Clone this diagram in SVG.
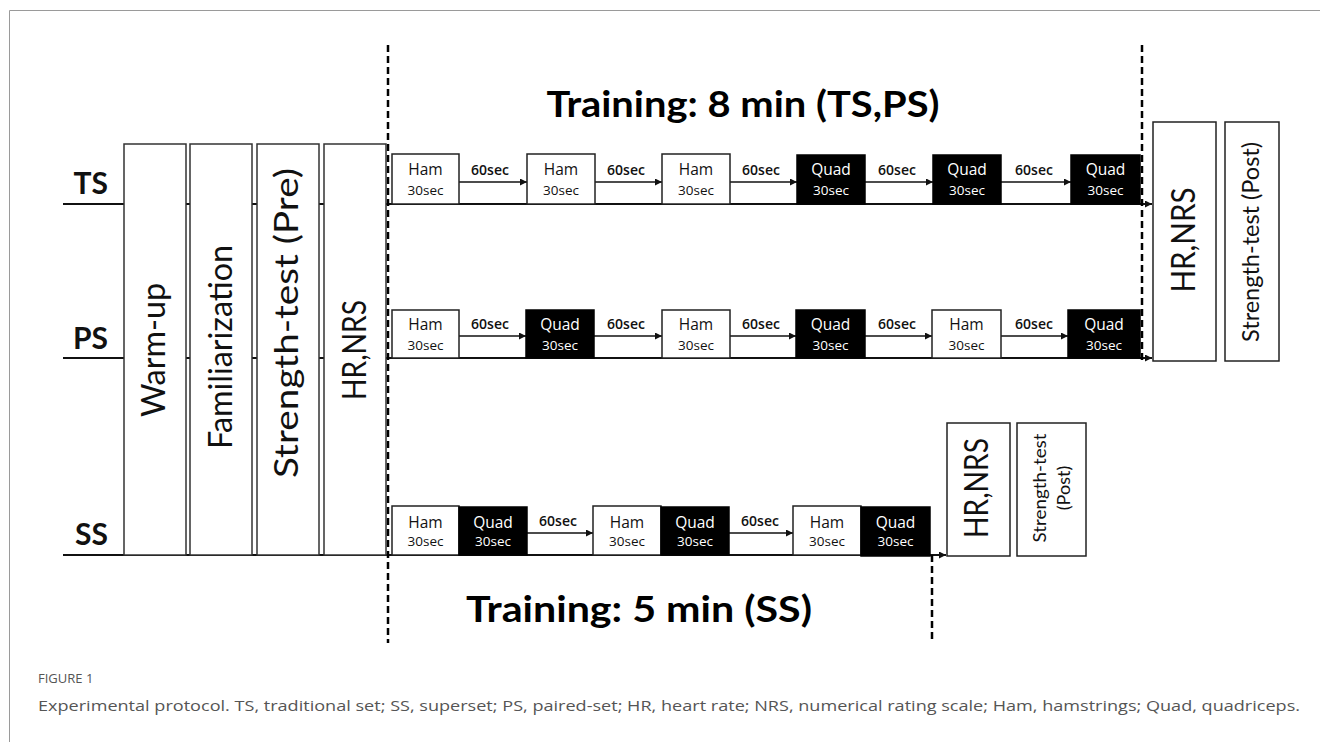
<svg xmlns="http://www.w3.org/2000/svg" width="1320" height="742" viewBox="0 0 1320 742">
<style>
.frame{fill:none;stroke:#9a9a9a;stroke-width:1}
.tall{fill:#fff;stroke:#333;stroke-width:1.5}
.wbox{fill:#fff;stroke:#222;stroke-width:1.5}
.bbox{fill:#000;stroke:#000;stroke-width:1.5}
.base{stroke:#111;stroke-width:2;fill:none}
.arr{stroke:#111;stroke-width:1.5;fill:none}
.dash{stroke:#000;stroke-width:2.5;stroke-dasharray:7 4;fill:none}
.row{font-family:Lato,"Open Sans","Liberation Sans",sans-serif;font-weight:bold;font-size:30px;fill:#111;text-anchor:end}
.big{font-family:Lato,"Liberation Sans",sans-serif;font-size:32px;fill:#111;text-anchor:middle}
.mid{font-family:Lato,"Liberation Sans",sans-serif;font-size:23px;fill:#111;text-anchor:middle}
.sm{font-family:Lato,"Liberation Sans",sans-serif;font-size:18px;fill:#111;text-anchor:middle}
.title{font-family:Lato,"Liberation Sans",sans-serif;font-weight:bold;font-size:36px;fill:#000;text-anchor:middle}
.t1{font-family:"Open Sans","Liberation Sans",Arial,sans-serif;font-size:15.5px;text-anchor:middle}
.t2{font-family:"Open Sans","Liberation Sans",Arial,sans-serif;font-size:13.5px;text-anchor:middle}
.w{fill:#111}
.k{fill:#fff}
.gap{font-family:"Open Sans","Liberation Sans",Arial,sans-serif;font-size:14px;font-weight:600;fill:#111;text-anchor:middle}
.cap1{font-family:"Open Sans","Liberation Sans",sans-serif;font-size:13px;fill:#555}
.cap2{font-family:"Open Sans","Liberation Sans",sans-serif;font-size:15px;fill:#555}
</style>
<defs>
<marker id="ah" viewBox="0 0 10 10" refX="10" refY="5" markerWidth="8" markerHeight="7" markerUnits="userSpaceOnUse" orient="auto">
<path d="M0,0 L10,5 L0,10 Z" fill="#111"/>
</marker>
</defs>
<rect width="1320" height="742" fill="#fff"/>
<path class="frame" d="M9.5,742 V10.5 H1320"/>

<g id="connectors">
<line class="base" x1="63" y1="204" x2="1152" y2="204" marker-end="url(#ah)"/>
<line class="base" x1="63" y1="358" x2="1152" y2="358" marker-end="url(#ah)"/>
<line class="base" x1="63" y1="555" x2="946" y2="555" marker-end="url(#ah)"/>
<line class="arr" x1="459" y1="182" x2="527" y2="182" marker-end="url(#ah)"/>
<line class="arr" x1="595" y1="182" x2="662" y2="182" marker-end="url(#ah)"/>
<line class="arr" x1="730" y1="182" x2="797" y2="182" marker-end="url(#ah)"/>
<line class="arr" x1="865" y1="182" x2="933" y2="182" marker-end="url(#ah)"/>
<line class="arr" x1="1001" y1="182" x2="1071" y2="182" marker-end="url(#ah)"/>
<line class="arr" x1="459" y1="336" x2="526" y2="336" marker-end="url(#ah)"/>
<line class="arr" x1="594" y1="336" x2="662" y2="336" marker-end="url(#ah)"/>
<line class="arr" x1="730" y1="336" x2="796" y2="336" marker-end="url(#ah)"/>
<line class="arr" x1="865" y1="336" x2="932" y2="336" marker-end="url(#ah)"/>
<line class="arr" x1="1001" y1="336" x2="1068" y2="336" marker-end="url(#ah)"/>
<line class="arr" x1="527" y1="533" x2="593" y2="533" marker-end="url(#ah)"/>
<line class="arr" x1="729" y1="533" x2="793" y2="533" marker-end="url(#ah)"/>
<g class="gap">
<text x="490" y="175">60sec</text><text x="626" y="175">60sec</text><text x="761" y="175">60sec</text><text x="897" y="175">60sec</text><text x="1034" y="175">60sec</text>
<text x="490" y="329">60sec</text><text x="626" y="329">60sec</text><text x="761" y="329">60sec</text><text x="897" y="329">60sec</text><text x="1034" y="329">60sec</text>
<text x="558" y="526">60sec</text><text x="760" y="526">60sec</text>
</g>
<line class="dash" x1="388" y1="45" x2="388" y2="643"/>
<line class="dash" x1="1142" y1="45" x2="1142" y2="362"/>
<line class="dash" x1="932" y1="555" x2="932" y2="643"/>
</g>

<g id="row-labels">
<text class="row" x="108" y="194">TS</text>
<text class="row" x="108" y="349">PS</text>
<text class="row" x="108" y="545">SS</text>
</g>

<g id="warmup"><rect class="tall" x="124" y="144" width="62" height="411"/><text class="big" transform="translate(165,350) rotate(-90)" textLength="134" lengthAdjust="spacingAndGlyphs">Warm-up</text></g>
<g id="familiarization"><rect class="tall" x="190" y="144" width="62" height="411"/><text class="big" transform="translate(232,347) rotate(-90)" textLength="204" lengthAdjust="spacingAndGlyphs">Familiarization</text></g>
<g id="strength-pre"><rect class="tall" x="257" y="144" width="62" height="411"/><text class="big" transform="translate(298,323) rotate(-90)" textLength="310" lengthAdjust="spacingAndGlyphs">Strength-test (Pre)</text></g>
<g id="hrnrs-pre"><rect class="tall" x="324" y="144" width="62" height="411"/><text class="big" transform="translate(366,350) rotate(-90)" textLength="100" lengthAdjust="spacingAndGlyphs">HR,NRS</text></g>

<g id="title-8"><text class="title" x="743" y="117" textLength="393" lengthAdjust="spacingAndGlyphs">Training: 8 min (TS,PS)</text></g>
<g id="title-5"><text class="title" x="639" y="622" textLength="346" lengthAdjust="spacingAndGlyphs">Training: 5 min (SS)</text></g>

<g id="ts-1"><rect class="wbox" x="392" y="154" width="67" height="50"/><text class="t1 w" x="425.5" y="175">Ham</text><text class="t2 w" x="425.5" y="195">30sec</text></g>
<g id="ts-2"><rect class="wbox" x="527" y="154" width="68" height="50"/><text class="t1 w" x="561" y="175">Ham</text><text class="t2 w" x="561" y="195">30sec</text></g>
<g id="ts-3"><rect class="wbox" x="662" y="154" width="68" height="50"/><text class="t1 w" x="696" y="175">Ham</text><text class="t2 w" x="696" y="195">30sec</text></g>
<g id="ts-4"><rect class="bbox" x="797" y="155" width="68" height="49"/><text class="t1 k" x="831" y="175">Quad</text><text class="t2 k" x="831" y="195">30sec</text></g>
<g id="ts-5"><rect class="bbox" x="933" y="155" width="68" height="49"/><text class="t1 k" x="967" y="175">Quad</text><text class="t2 k" x="967" y="195">30sec</text></g>
<g id="ts-6"><rect class="bbox" x="1071" y="155" width="69" height="49"/><text class="t1 k" x="1105.5" y="175">Quad</text><text class="t2 k" x="1105.5" y="195">30sec</text></g>

<g id="ps-1"><rect class="wbox" x="392" y="310" width="67" height="48"/><text class="t1 w" x="425.5" y="330">Ham</text><text class="t2 w" x="425.5" y="350">30sec</text></g>
<g id="ps-2"><rect class="bbox" x="526" y="310" width="68" height="48"/><text class="t1 k" x="560" y="330">Quad</text><text class="t2 k" x="560" y="350">30sec</text></g>
<g id="ps-3"><rect class="wbox" x="662" y="310" width="68" height="48"/><text class="t1 w" x="696" y="330">Ham</text><text class="t2 w" x="696" y="350">30sec</text></g>
<g id="ps-4"><rect class="bbox" x="796" y="310" width="69" height="48"/><text class="t1 k" x="830.5" y="330">Quad</text><text class="t2 k" x="830.5" y="350">30sec</text></g>
<g id="ps-5"><rect class="wbox" x="932" y="310" width="69" height="48"/><text class="t1 w" x="966.5" y="330">Ham</text><text class="t2 w" x="966.5" y="350">30sec</text></g>
<g id="ps-6"><rect class="bbox" x="1068" y="310" width="72" height="48"/><text class="t1 k" x="1104" y="330">Quad</text><text class="t2 k" x="1104" y="350">30sec</text></g>

<g id="ss-1"><rect class="wbox" x="392" y="506" width="67" height="49"/><text class="t1 w" x="425.5" y="528">Ham</text><text class="t2 w" x="425.5" y="546">30sec</text></g>
<g id="ss-2"><rect class="bbox" x="459" y="507" width="68" height="48"/><text class="t1 k" x="493" y="528">Quad</text><text class="t2 k" x="493" y="546">30sec</text></g>
<g id="ss-3"><rect class="wbox" x="593" y="506" width="68" height="49"/><text class="t1 w" x="627" y="528">Ham</text><text class="t2 w" x="627" y="546">30sec</text></g>
<g id="ss-4"><rect class="bbox" x="661" y="507" width="68" height="48"/><text class="t1 k" x="695" y="528">Quad</text><text class="t2 k" x="695" y="546">30sec</text></g>
<g id="ss-5"><rect class="wbox" x="793" y="506" width="68" height="49"/><text class="t1 w" x="827" y="528">Ham</text><text class="t2 w" x="827" y="546">30sec</text></g>
<g id="ss-6"><rect class="bbox" x="861" y="507" width="69" height="49"/><text class="t1 k" x="895.5" y="528">Quad</text><text class="t2 k" x="895.5" y="546">30sec</text></g>

<g id="hrnrs-post"><rect class="wbox" x="1153" y="122" width="63" height="239"/><text class="big" transform="translate(1195,240) rotate(-90)" textLength="105" lengthAdjust="spacingAndGlyphs">HR,NRS</text></g>
<g id="strength-post"><rect class="wbox" x="1225" y="122" width="54" height="239"/><text class="mid" transform="translate(1259,242) rotate(-90)" textLength="200" lengthAdjust="spacingAndGlyphs">Strength-test (Post)</text></g>
<g id="hrnrs-post-ss"><rect class="wbox" x="947" y="423" width="63" height="133"/><text class="big" transform="translate(988,488) rotate(-90)" textLength="100" lengthAdjust="spacingAndGlyphs">HR,NRS</text></g>
<g id="strength-post-ss"><rect class="wbox" x="1017" y="423" width="69" height="133"/><text class="sm" transform="translate(1046,488) rotate(-90)" textLength="109" lengthAdjust="spacingAndGlyphs">Strength-test</text><text class="sm" transform="translate(1070,488) rotate(-90)">(Post)</text></g>

<g id="caption">
<text class="cap1" x="38" y="683">FIGURE 1</text>
<text class="cap2" x="38" y="711" textLength="1262" lengthAdjust="spacingAndGlyphs">Experimental protocol. TS, traditional set; SS, superset; PS, paired-set; HR, heart rate; NRS, numerical rating scale; Ham, hamstrings; Quad, quadriceps.</text>
</g>
</svg>
